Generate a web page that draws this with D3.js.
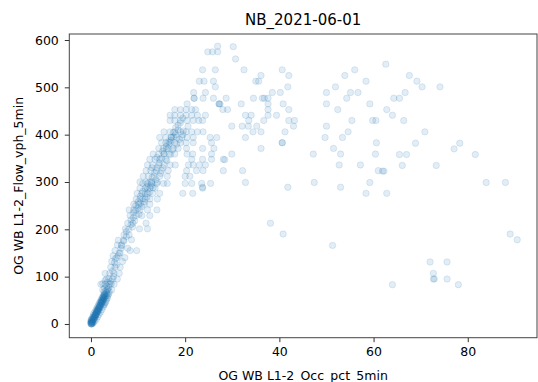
<!DOCTYPE html>
<html>
<head>
<meta charset="utf-8">
<script src="https://cdn.jsdelivr.net/npm/d3@7"></script>
<style>
  body { margin: 0; background: #fff; }
  svg text { font-family: "DejaVu Sans", sans-serif; fill: #000; }
</style>
</head>
<body>
<div id="chart"></div>
<script>
// chart labels
var title = "NB_2021-06-01";
var xLabel = "OG WB L1-2_Occ_pct_5min";
var yLabel = "OG WB L1-2_Flow_vph_5min";

// tick values on each axis
var xTicks = [0, 20, 40, 60, 80];
var yTicks = [0, 100, 200, 300, 400, 500, 600];

// readings as [occupancy pct, flow vph]
// the dense low-occupancy core
var corePts = [
  [0,0],[0,2],[0.1,5],[0,8],[0.2,1],[0.3,4],[0.1,10],[0.4,7],[0.5,12],[0.3,14],[0.6,9],[0.7,15],
  [0.5,18],[0.8,13],[0.9,20],[0.6,22],[1.0,17],[1.1,24],[0.9,26],[1.2,21],[1.3,28],[1.1,30],[1.4,25],
  [1.5,32],[1.3,34],[1.6,29],[1.7,36],[1.5,38],[1.8,33],[1.9,40],[1.7,42],[2.0,37],[2.1,44],[1.9,46],
  [2.2,41],[2.3,48],[2.1,50],[2.4,45],[2.5,52],[2.3,54],[2.6,49],[2.7,56],[2.5,58],[2.8,53],[2.9,60],
  [2.7,62],[3.0,57],[3.1,64],[0,1],[0.2,0],[0.4,3],[0.2,6],[0.6,11],[0.8,16],[1.0,19],[1.2,23],[1.4,27],
  [1.6,31],[1.8,35],[2.0,39],[2.2,43],[2.4,47],[2.6,51],[2.8,55],[3.2,59],[3.3,66],[3.4,62],[0.1,3],
  [0.3,2],[0,5],[0.1,0],[0.4,10],[0.7,12],[0.9,18],[1.2,26],[1.5,28],[1.8,38],[2.0,45],[2.3,50],
  [2.6,57],[2.9,63],[0,4],[0.2,9],[0.5,14],[0.8,19],[1.1,22],[1.4,30],[1.7,34],[2.2,46],[2.5,54],[2.8,60],
  [3.5,55],[3.8,64],[3.2,48],[2.9,42],[2.6,36],[2.3,30],[2.0,25],[1.7,20],[1.4,15],[1.1,10],[0.8,6],[0.5,2]
];

// rising free-flow branch
var risePts = [
  [2.8,68],[3.2,70],[3.6,74],[2.9,76],[3.4,80],[3.8,78],[2.5,85],[3.5,88],[4.2,90],[3.0,92],[2.1,84],
  [3.0,84],[4.0,84],[4.9,84],[2.5,72],[3.5,72],[4.4,72],[3.3,95],[4.6,95],[5.6,95],
  [3,107],[4,107],[4.9,107],[6,107],[4.2,120],[5.1,120],[4.4,132],[6.7,132],[4.7,144],[5.8,144],
  [5.1,155],[8.3,155],[9.7,155],[5.6,167],[6.5,167],[5.8,177],[6.9,177],[7,188],[8.1,188],[4.6,112],
  [5.4,125],[5.2,138],[6.2,150],[6.4,160],[7.5,195],
  [7.3,201],[10.3,201],[12,201],[7.8,213],[8.9,213],[11.7,213],[8.3,229],[9.6,229],[10.8,229],[12.5,229],
  [8.1,241],[9.1,241],[10.4,241],[12,241],[14,241],[9.1,253],[10.1,253],[11.3,253],[12.5,253],
  [9.6,264],[10.4,264],[11.5,264],[12.5,264],[14.1,264],[9.8,276],[10.8,276],[12,276],[13.1,276],
  [14.6,276],[19.5,276],[21.6,276],[10.4,287],[11.5,287],[12.5,287],[13.6,287],[23.7,287],
  [11,297],[12,297],[12.9,297],[14,297],[15.4,297],[16.2,297],[20,297],[21.4,297],[23.5,297],[25.4,297],
  [10.4,300],[11.7,300],[12.9,300],[14.1,300],[23.7,289],
  [9.5,250],[10.5,270],[11,280],[10,258],[9,235],[8.5,220],[11.8,290],[12.8,292],
  [5,130],[5.5,140],[6,150],[6.5,165],[7,175],[7.5,185],[8,200],[8.5,210],[9,225],[9.5,240],
  [10,245],[10.5,255],[11,265],[11.5,275],[12,285],[8.8,205],[9.3,218],[10.2,232],[10.8,248],
  [11.3,258],[11.9,268],[12.4,278],[13.2,288],[6.2,120],[7.2,140],[7.8,160],[8.6,178],[4.8,100],
  [3.8,96],[4.3,85],[3.9,68],[3.6,60],[3.3,52],[3.0,45],[2.7,40]
];

// near capacity
var capPts = [
  [11.1,312],[12.2,312],[13.4,312],[14.6,312],[16.2,312],[20,312],[21,312],
  [11.7,324],[12.7,324],[13.9,324],[15,324],[16.4,324],[20.3,324],[22.4,324],[23.8,324],
  [12,336],[13.1,336],[14.4,336],[15.5,336],[16.8,336],[17.9,336],[20.7,336],[21.7,336],[23,336],[24.3,336],
  [12.5,348],[13.6,348],[14.6,348],[15.9,348],[21.4,348],[23.7,348],[25.6,348],[28.1,348],
  [13.2,359],[14.4,359],[15.5,359],[16.6,359],[17.8,359],[20.4,359],[21.6,359],[25.6,359],
  [14.4,371],[15.4,371],[16.4,371],[17.5,371],[18.5,371],[20.3,371],[23.7,371],[26.1,371],
  [15,383],[15.9,383],[16.8,383],[17.8,383],[19,383],[20.2,383],[21.7,383],[25.6,383],
  [14.6,394],[15.9,394],[17.1,394],[18.2,394],[19.3,394],[20.4,394],[21.7,394],[25.3,394],[26.7,394],
  [15.5,406],[16.8,406],[17.8,406],[19,406],[20.2,406],[21.4,406],[22.6,406],[23.8,406],
  [16,375],[17,388],[18,400],[15.2,365],[16.5,380],[17.5,395],[14,352],[13,330],[18.5,410],[19.5,400],
  [12.5,300],[13,310],[13.5,320],[14,330],[14.5,340],[15,350],[15.5,360],[16,370],[16.5,385],
  [17,395],[17.5,405],[18,415],[18.5,420],[19,425],[19.5,435],[13.8,305],[14.8,318],[15.3,330],
  [16.1,345],[16.9,358],[17.3,368],[18.2,380],[18.8,390],[19.6,408],[20.6,418],
  [16.8,430],[17.8,430],[19,430],[20.4,430],[21.7,430],[22.9,430],[23.7,430],
  [16.8,441],[17.8,441],[19,441],[20.2,441],[21.4,441],[22.6,441],[24.3,441],
  [17.8,453],[19,453],[20.2,453],[21.4,453],[22.2,453],
  [20.4,465],[27.2,465],[27.2,465],[21.9,477],[21.9,477],[23.8,477],[26,477],
  [21.8,489],[24.3,489],[26.4,501],[23,513],[24,513],[26,513],[23.7,537],[26.4,537],
  [24.8,575],[25.8,575],[26.9,575],[26.9,587]
];

// congested, scattered readings
var congPts = [
  [30.2,586],[30.7,560],[32.5,537],[40.6,537],[36.1,525],[42,525],[35,513],[35.6,513],[41.8,501],
  [38.5,489],[40.2,489],[34.5,477],[36.4,477],[36.8,477],[37.6,477],[28.7,477],[27.4,465],[31.9,465],
  [40.8,465],[37.6,465],[28,453],[29,453],[37.6,453],[42,453],[32.8,441],[34,441],[37.6,441],[39.4,441],
  [33.5,430],[36.7,430],[42,430],[43.2,430],[29.9,418],[32.1,418],[33.4,418],[35.2,418],[43,418],
  [34.4,406],[36.1,406],[41.2,406],[32.8,394],[40.6,383],[40.6,383],[36.1,371],[29.9,359],[28.4,347],
  [28.1,324],[32.2,324],[32.8,299],[41.8,289],
  [56,537],[53.9,525],[58.4,513],[51.9,501],[50,489],[55.1,489],[56.7,489],[54.3,477],[50,465],
  [59.2,465],[52.4,453],[55.4,430],[59.8,430],[60.5,430],[50,418],[54.6,406],[49.7,394],[53.4,394],
  [60.6,383],[51.5,371],[47.2,359],[53,359],[60.4,359],[52.7,336],[57.2,336],[61,324],[47.4,299],
  [53,289],[59.2,299],
  [62.6,549],[67.6,525],[69.2,513],[70.3,501],[74.1,501],[66.7,489],[64.3,477],[65.5,477],[62.8,453],
  [64,441],[66.4,430],[70.9,406],[68.9,382],[78.3,382],[77.1,370],[65.5,358],[67,358],[81.6,358],
  [66.1,335],[73.3,335],[61.9,323],[62.2,323],[83.9,299],[88,299],
  [58.4,276],[62.8,276],[38.1,213],[40.8,190],[51.3,166],[89,190],[90.5,178],[72,131],[75.6,131],
  [72.7,107],[72.7,95],[72.9,95],[75.6,95],[64,83],[78,83]
];

var width = 538, height = 382;
var margin = {top: 34, right: 1, bottom: 44.3, left: 69.3};
var innerW = width - margin.left - margin.right;
var innerH = height - margin.top - margin.bottom;

var svg = d3.select("#chart").append("svg")
    .attr("width", width)
    .attr("height", height);

var g = svg.append("g")
    .attr("transform", "translate(" + margin.left + "," + margin.top + ")");

var x = d3.scaleLinear().domain([-4.6, 94.7]).range([0, innerW]);
var y = d3.scaleLinear().domain([-29, 612.7]).range([innerH, 0]);

var allPts = corePts.concat(risePts, capPts, congPts);

// points: same colour on face and edge, both translucent (like matplotlib alpha)
g.append("g")
  .selectAll("circle")
  .data(allPts)
  .enter()
  .append("circle")
    .attr("cx", function(d) { return x(d[0]); })
    .attr("cy", function(d) { return y(d[1]); })
    .attr("r", 3.2)
    .attr("fill", "#1f77b4")
    .attr("fill-opacity", 0.13)
    .attr("stroke", "#1f77b4")
    .attr("stroke-opacity", 0.13)
    .attr("stroke-width", 1);

// axes
var xAxis = d3.axisBottom(x).tickValues(xTicks).tickSize(4.5).tickPadding(5);
var yAxis = d3.axisLeft(y).tickValues(yTicks).tickSize(4.5).tickPadding(6);

var gx = g.append("g")
    .attr("transform", "translate(0," + innerH + ")")
    .call(xAxis);
var gy = g.append("g").call(yAxis);

[gx, gy].forEach(function(a) {
    a.select(".domain").remove();
    a.selectAll(".tick line").attr("stroke", "#333").attr("stroke-width", 1);
    a.selectAll(".tick text")
        .style("font-family", "DejaVu Sans")
        .style("font-size", "12.5px")
        .attr("fill", "#222");
});

// spines
g.append("rect")
    .attr("x", 0)
    .attr("y", 0)
    .attr("width", innerW)
    .attr("height", innerH)
    .attr("fill", "none")
    .attr("stroke", "#444")
    .attr("stroke-width", 1);

// title and axis labels
svg.append("text")
    .attr("x", margin.left + innerW / 2)
    .attr("y", 25)
    .attr("text-anchor", "middle")
    .style("font-size", "15px")
    .attr("fill", "#222")
    .text(title);

svg.append("text")
    .attr("x", margin.left + innerW / 2)
    .attr("y", 379.5)
    .attr("text-anchor", "middle")
    .style("font-size", "12.5px")
    .attr("fill", "#222")
    .text(xLabel);

svg.append("text")
    .attr("transform", "translate(22.5," + (margin.top + innerH / 2) + ") rotate(-90)")
    .attr("text-anchor", "middle")
    .style("font-size", "12.5px")
    .attr("fill", "#222")
    .text(yLabel);
</script>
</body>
</html>
